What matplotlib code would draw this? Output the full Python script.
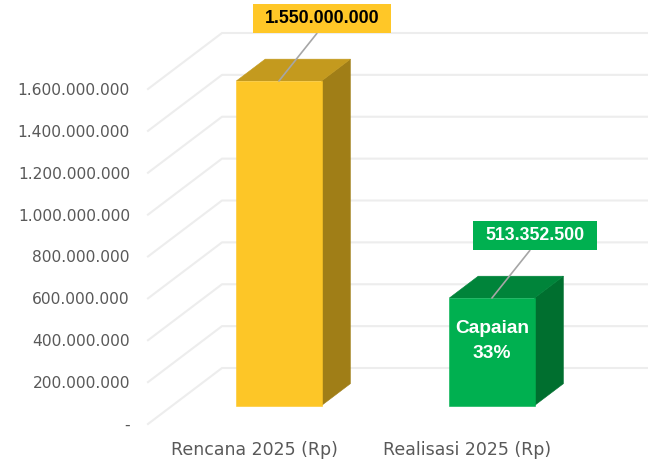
import matplotlib.pyplot as plt
from matplotlib.path import Path
from matplotlib.patches import Polygon
from matplotlib.ticker import FuncFormatter

# data
categories = ["Rencana 2025 (Rp)", "Realisasi 2025 (Rp)"]
values = [1550000000, 513352500]
y_ticks = [0, 200000000, 400000000, 600000000, 800000000,
           1000000000, 1200000000, 1400000000, 1600000000]

front_colors = ["#FDC627", "#00B050"]
top_colors = ["#C49A1E", "#00843A"]
side_colors = ["#A07E17", "#006F2F"]
label_colors = ["#FFC727", "#00B050"]
label_text_colors = ["black", "white"]


def rupiah(v, pos=None):
    # Indonesian style thousand separators, "-" for zero
    if v == 0:
        return "-"
    return "{:,.0f}".format(v).replace(",", ".")


def label_box(x0, y0, width, height, mutation_size):
    # rectangle with more padding left/right than top/bottom
    px = 0.68 * mutation_size
    py = 0.36 * mutation_size
    return Path([(x0 - px, y0 - py), (x0 + width + px, y0 - py),
                 (x0 + width + px, y0 + height + py), (x0 - px, y0 + height + py),
                 (x0 - px, y0 - py)], closed=True)


fig = plt.figure(figsize=(6.48, 4.63), dpi=100)
ax = fig.add_axes([148 / 648, 39 / 463, 426 / 648, 335 / 463])
ax.set_xlim(-0.5, 1.5)
ax.set_ylim(0, 1600000000)
ax.patch.set_visible(False)
for s in ax.spines.values():
    s.set_visible(False)

# fake 3D: depth of the wall (x units, value units)
DX = 74 / 213
DY = 56 / 335 * 1600000000
F0, F1 = 0.33, 0.72   # front / back of the bars as fraction of depth
W = 0.40

# gridlines: diagonal on the side wall + horizontal on the back wall
for v in y_ticks:
    ax.plot([-0.5, -0.5 + DX, 1.5 + DX], [v, v + DY, v + DY],
            color="#EDEDED", lw=1.5, zorder=1, clip_on=False)

# bars
ddx = (F1 - F0) * DX
ddy = (F1 - F0) * DY
for i, v in enumerate(values):
    x0 = i - W / 2 + F0 * DX
    x1 = i + W / 2 + F0 * DX
    yb = F0 * DY
    yt = v + F0 * DY
    side = [(x1, yb), (x1, yt), (x1 + ddx, yt + ddy), (x1 + ddx, yb + ddy)]
    top = [(x0, yt), (x1, yt), (x1 + ddx, yt + ddy), (x0 + ddx, yt + ddy)]
    front = [(x0, yb), (x1, yb), (x1, yt), (x0, yt)]
    for pts, c in [(side, side_colors[i]), (top, top_colors[i]), (front, front_colors[i])]:
        ax.add_patch(Polygon(pts, closed=True, fc=c, ec=c, lw=0.4,
                             zorder=3, clip_on=False))

    # data label with leader line
    ax.annotate(rupiah(v), xy=(i + F0 * DX, yt), xytext=(31, 45),
                textcoords="offset points", ha="center", va="center",
                fontsize=12.8, fontweight="bold", family="Liberation Sans",
                color=label_text_colors[i], zorder=6, annotation_clip=False,
                bbox=dict(boxstyle=label_box, fc=label_colors[i], ec="none"),
                arrowprops=dict(arrowstyle="-", color="#A6A6A6", lw=1.2,
                                relpos=(0.5, 0), shrinkA=0, shrinkB=0))

# achievement text inside the green bar
ax.text(1 + F0 * DX, F0 * DY + 0.60 * values[1],
        "Capaian\n{:.0%}".format(values[1] / values[0]),
        ha="center", va="center", fontsize=13.8, fontweight="bold",
        family="Liberation Sans", color="white", linespacing=1.6, zorder=6)

ax.set_yticks(y_ticks)
ax.yaxis.set_major_formatter(FuncFormatter(rupiah))
ax.set_xticks(range(len(categories)))
ax.set_xticklabels(categories)
ax.tick_params(axis="y", length=0, pad=13, labelsize=11.2, labelcolor="#595959")
ax.tick_params(axis="x", length=0, pad=12, labelsize=12.5, labelcolor="#595959")

fig.savefig("out.png", dpi=100)
